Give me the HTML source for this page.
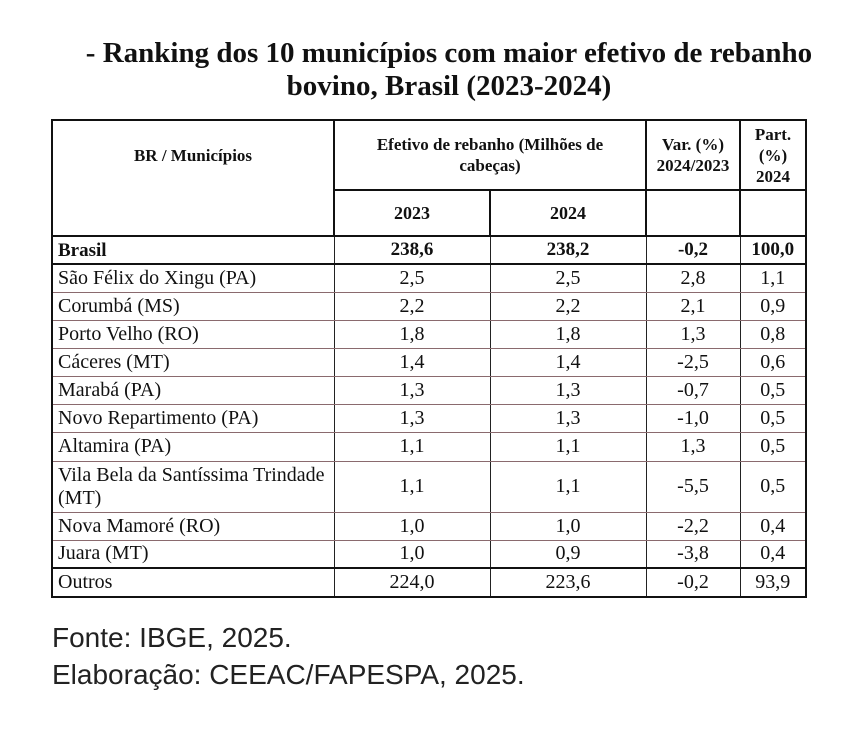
<!DOCTYPE html>
<html><head><meta charset="utf-8"><style>
body{margin:0;background:#fff;width:860px;height:751px;position:relative;overflow:hidden;font-family:"Liberation Serif",serif;color:#111}
.t{position:absolute;left:0;width:898px;text-align:center;font-weight:bold;font-size:29px;line-height:33px;white-space:nowrap}
table{position:absolute;left:51px;top:119px;border-collapse:collapse;table-layout:fixed;border:2px solid #111}
td{padding:0;font-size:20px;text-align:center;vertical-align:middle;border-left:1.5px solid #222;border-right:1.5px solid #222;border-top:1.5px solid #8a6a6e;border-bottom:1.5px solid #8a6a6e;white-space:nowrap}
td.l{text-align:left;padding-left:5px;line-height:23px}
tr.h td{font-weight:bold;font-size:17px;border:2px solid #111;line-height:21px}
tr.b td{font-weight:bold;font-size:19px;border-top:2px solid #111;border-bottom:2px solid #111}
tr.o td{border-top:2px solid #111}
.f{position:absolute;left:52px;font-family:"Liberation Sans",sans-serif;font-size:28px;color:#222}
</style></head><body>
<div class="t" style="top:37px">- Ranking dos 10 municípios com maior efetivo de rebanho</div>
<div class="t" style="top:70px">bovino, Brasil (2023-2024)</div>
<table>
<colgroup><col style="width:282px"><col style="width:156px"><col style="width:156px"><col style="width:94px"><col style="width:66px"></colgroup>
<tr class="h" style="height:70px"><td rowspan="2" style="vertical-align:top;padding-top:24px">BR / Municípios</td><td colspan="2">Efetivo de rebanho (Milhões de<br>cabeças)</td><td>Var. (%)<br>2024/2023</td><td>Part.<br>(%)<br>2024</td></tr>
<tr class="h" style="height:46px"><td style="font-size:18px">2023</td><td style="font-size:18px">2024</td><td></td><td></td></tr>
<tr class="b" style="height:28px"><td class="l">Brasil</td><td>238,6</td><td>238,2</td><td>-0,2</td><td>100,0</td></tr>
<tr style="height:28px"><td class="l">São Félix do Xingu (PA)</td><td>2,5</td><td>2,5</td><td>2,8</td><td>1,1</td></tr>
<tr style="height:28px"><td class="l">Corumbá (MS)</td><td>2,2</td><td>2,2</td><td>2,1</td><td>0,9</td></tr>
<tr style="height:28px"><td class="l">Porto Velho (RO)</td><td>1,8</td><td>1,8</td><td>1,3</td><td>0,8</td></tr>
<tr style="height:28px"><td class="l">Cáceres (MT)</td><td>1,4</td><td>1,4</td><td>-2,5</td><td>0,6</td></tr>
<tr style="height:28px"><td class="l">Marabá (PA)</td><td>1,3</td><td>1,3</td><td>-0,7</td><td>0,5</td></tr>
<tr style="height:28px"><td class="l">Novo Repartimento (PA)</td><td>1,3</td><td>1,3</td><td>-1,0</td><td>0,5</td></tr>
<tr style="height:29px"><td class="l">Altamira (PA)</td><td>1,1</td><td>1,1</td><td>1,3</td><td>0,5</td></tr>
<tr style="height:51px"><td class="l">Vila Bela da Santíssima Trindade<br>(MT)</td><td>1,1</td><td>1,1</td><td>-5,5</td><td>0,5</td></tr>
<tr style="height:28px"><td class="l">Nova Mamoré (RO)</td><td>1,0</td><td>1,0</td><td>-2,2</td><td>0,4</td></tr>
<tr style="height:28px"><td class="l">Juara (MT)</td><td>1,0</td><td>0,9</td><td>-3,8</td><td>0,4</td></tr>
<tr class="o" style="height:29px"><td class="l">Outros</td><td>224,0</td><td>223,6</td><td>-0,2</td><td>93,9</td></tr>
</table>
<div class="f" style="top:622px">Fonte: IBGE, 2025.</div>
<div class="f" style="top:659px">Elaboração: CEEAC/FAPESPA, 2025.</div>
</body></html>
